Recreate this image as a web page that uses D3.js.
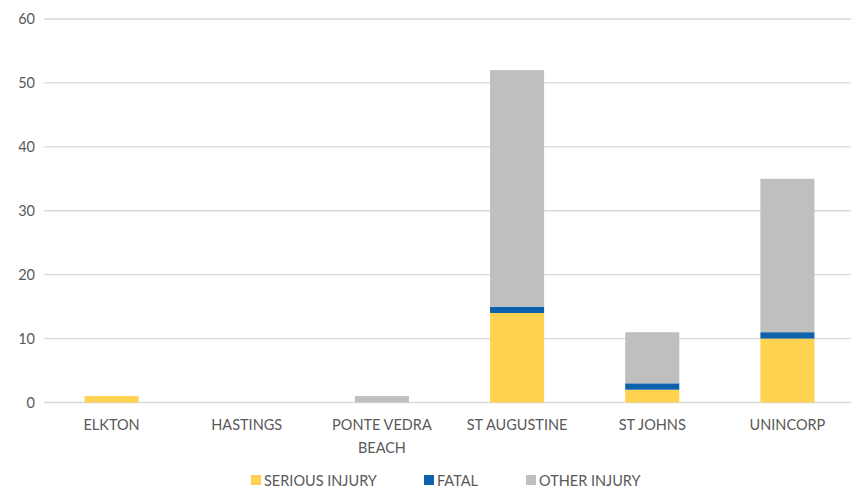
<!DOCTYPE html>
<html lang="en">
<head>
  <meta charset="UTF-8">
  <title>Injuries by city</title>
  <style>
    body { margin: 0; background: #fff; overflow: hidden; }
    svg { display: block; }
    text { font-family: Lato, "Open Sans", sans-serif; fill: #595959; }
  </style>
</head>
<body>
<div id="chart"></div>
<script src="https://d3js.org/d3.v7.min.js"></script>
<script type="text/javascript">

  // data
  var categories = ["ELKTON", "HASTINGS", "PONTE VEDRA BEACH", "ST AUGUSTINE", "ST JOHNS", "UNINCORP"];
  var seriesNames = ["SERIOUS INJURY", "FATAL", "OTHER INJURY"];
  var serious = [1, 0, 0, 14, 2, 10];
  var fatal = [0, 0, 0, 1, 1, 1];
  var other = [0, 0, 1, 37, 8, 24];
  var yTicks = [0, 10, 20, 30, 40, 50, 60];
  var colors = ["#FFD24F", "#0E62AC", "#BFBFBF"];

  var w = 851, h = 487;
  var margin = {top: 19, left: 44, bottom: 84.5};
  var plotW = 811;

  var svg = d3.select("#chart").append("svg")
    .attr("width", w)
    .attr("height", h);

  var rows = categories.map(function(c, i) {
    return {cat: c, s0: serious[i], s1: fatal[i], s2: other[i]};
  });
  var stacked = d3.stack().keys(["s0", "s1", "s2"])(rows);

  var x = d3.scaleBand()
    .domain(categories)
    .range([margin.left, margin.left + plotW])
    .paddingInner(0.6)
    .paddingOuter(0.3);

  var y = d3.scaleLinear()
    .domain([0, 60])
    .range([h - margin.bottom, margin.top]);

  // gridlines
  svg.append("g")
    .selectAll("line")
    .data(yTicks)
    .enter()
    .append("line")
    .attr("x1", margin.left)
    .attr("x2", margin.left + plotW)
    .attr("y1", d => y(d))
    .attr("y2", d => y(d))
    .attr("stroke", "#D9D9D9")
    .attr("stroke-width", 1.3);

  // y axis
  var yAxis = svg.append("g")
    .attr("transform", `translate(${margin.left}, 0)`)
    .call(d3.axisLeft(y).tickValues(yTicks).tickSize(0).tickPadding(9));
  yAxis.select(".domain").remove();
  yAxis.selectAll("text").style("font-size", "14.5px").attr("fill", "#595959");

  // bars
  svg.append("g")
    .selectAll("g")
    .data(stacked)
    .enter()
    .append("g")
    .attr("fill", (d, i) => colors[i])
    .selectAll("rect")
    .data(d => d)
    .enter()
    .append("rect")
    .attr("x", d => x(d.data.cat))
    .attr("width", x.bandwidth())
    .attr("y", d => y(d[1]))
    .attr("height", d => y(d[0]) - y(d[1]));

  // x axis labels
  var xAxis = svg.append("g")
    .attr("transform", `translate(0, ${y(0)})`)
    .call(d3.axisBottom(x).tickSize(0).tickPadding(17));
  xAxis.select(".domain").remove();
  xAxis.selectAll("text")
    .style("font-size", "14.5px")
    .attr("fill", "#595959")
    .each(function(d) {
      if (d === "PONTE VEDRA BEACH") {
        var t = d3.select(this).text(null);
        t.append("tspan").attr("x", 0).attr("dy", "0.71em").text("PONTE VEDRA");
        t.append("tspan").attr("x", 0).attr("dy", "1.6em").text("BEACH");
        t.attr("dy", null);
      }
    });

  // legend
  var legendX = [251, 424, 526];
  var legend = svg.append("g")
    .selectAll("g")
    .data(seriesNames)
    .enter()
    .append("g")
    .attr("transform", (d, i) => `translate(${legendX[i]}, 475)`);
  legend.append("rect")
    .attr("width", 10)
    .attr("height", 10)
    .attr("fill", (d, i) => colors[i]);
  legend.append("text")
    .attr("x", 13)
    .attr("y", 10.5)
    .style("font-size", "14.5px")
    .text(d => d);

</script>
</body>
</html>
